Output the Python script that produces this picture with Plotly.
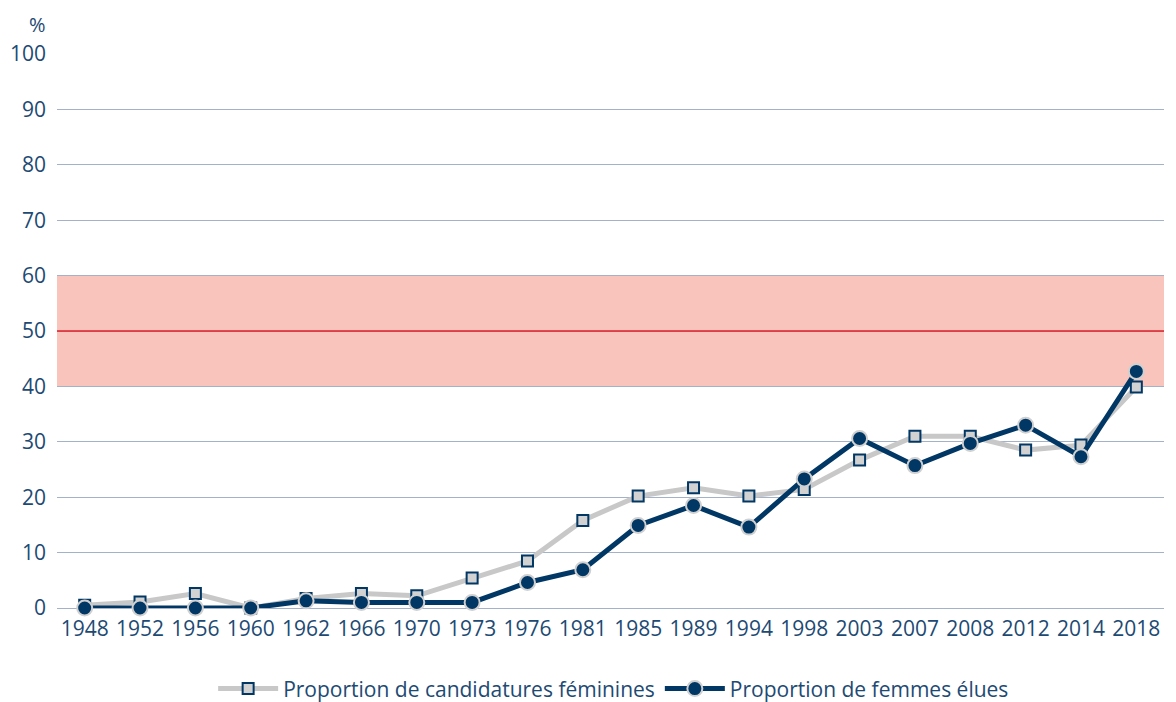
import plotly.graph_objects as go

years = ["1948", "1952", "1956", "1960", "1962", "1966", "1970", "1973", "1976", "1981",
         "1985", "1989", "1994", "1998", "2003", "2007", "2008", "2012", "2014", "2018"]
candidatures = [0.5, 1.1, 2.6, 0.0, 1.7, 2.6, 2.2, 5.4, 8.5, 15.8,
                20.2, 21.7, 20.2, 21.4, 26.7, 31.0, 31.0, 28.5, 29.4, 39.9]
elues = [0.0, 0.0, 0.0, 0.0, 1.3, 1.0, 1.0, 1.0, 4.6, 6.9,
         14.9, 18.5, 14.6, 23.3, 30.6, 25.7, 29.7, 33.0, 27.3, 42.7]
y_ticks = [0, 10, 20, 30, 40, 50, 60, 70, 80, 90, 100]

NAVY = "#003764"
GREY = "#c8c8c8"
TXT = "#1d4a73"
FONT = "'Open Sans', sans-serif"

fig = go.Figure()
fig.add_trace(go.Scatter(
    x=years, y=candidatures, mode="lines+markers",
    name="Proportion de candidatures féminines",
    line=dict(color=GREY, width=5),
    marker=dict(symbol="square", size=11, color="#d2d2d2",
                line=dict(color=NAVY, width=2)),
    cliponaxis=False,
))
fig.add_trace(go.Scatter(
    x=years, y=elues, mode="lines+markers",
    name="Proportion de femmes élues",
    line=dict(color=NAVY, width=5),
    marker=dict(symbol="circle", size=15, color=NAVY,
                line=dict(color="#d0d0d0", width=2)),
    cliponaxis=False,
))

fig.add_shape(type="rect", xref="paper", yref="y", x0=0, x1=1, y0=40, y1=60,
              fillcolor="#f9c4bc", line=dict(width=0), layer="below")
fig.add_shape(type="line", xref="paper", yref="y", x0=0, x1=1, y0=50, y1=50,
              line=dict(color="#e31e24", width=1.5), layer="above")

fig.add_annotation(text="%", xref="paper", yref="paper", x=-0.008, y=1.082,
                   xanchor="right", yanchor="top", showarrow=False,
                   font=dict(family=FONT, size=20, color=TXT))

fig.update_layout(
    width=1176, height=702,
    margin=dict(l=49, r=20, t=46, b=102, autoexpand=False),
    paper_bgcolor="white", plot_bgcolor="white",
    font=dict(family=FONT, size=21, color=TXT),
    showlegend=True,
    legend=dict(orientation="h", x=0.515, xanchor="center", xref="container",
                y=0.03, yanchor="middle", yref="container",
                font=dict(family=FONT, size=21, color=TXT), itemwidth=60,
                traceorder="normal"),
    xaxis=dict(type="category", range=[-0.5, 19.5], showgrid=False,
               showline=False, ticks="", automargin=False, ticklabelstandoff=6,
               tickfont=dict(size=21, color=TXT)),
    yaxis=dict(range=[0, 100], tickvals=y_ticks, showgrid=True,
               gridcolor="#a3b2c8", gridwidth=1, zeroline=True,
               zerolinecolor="#a3b2c8", zerolinewidth=1, showline=False,
               ticks="", ticklabelstandoff=10, automargin=False,
               tickfont=dict(size=21, color=TXT)),
)

fig.write_html("out.html")
